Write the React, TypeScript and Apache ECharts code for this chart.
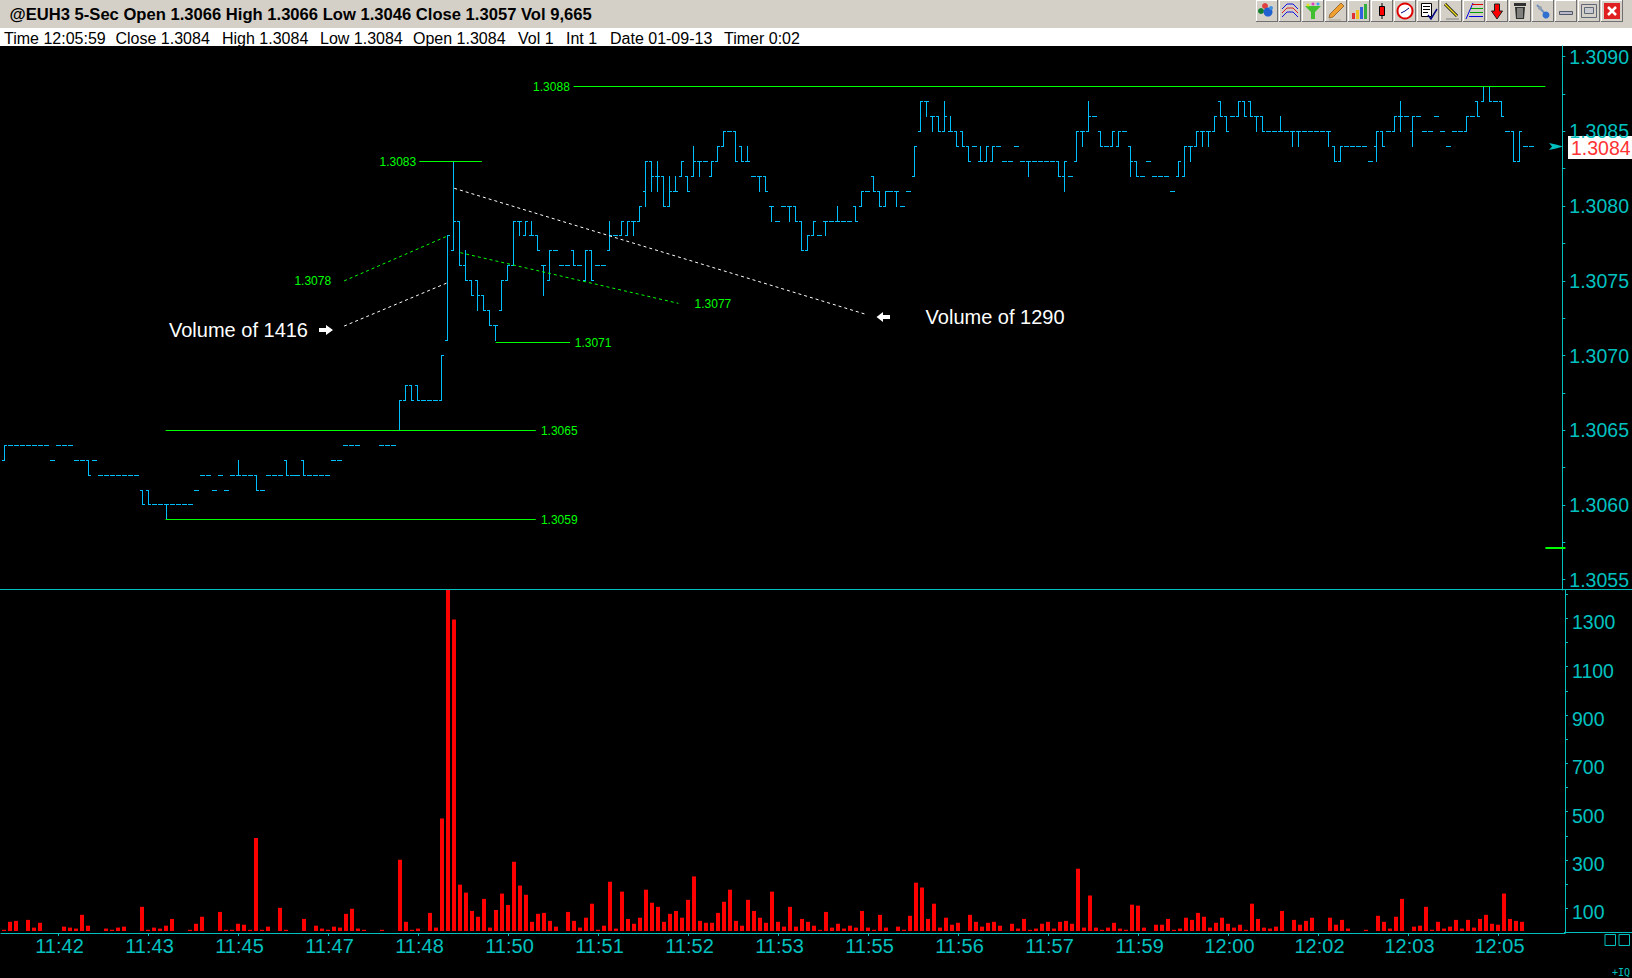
import React, { useEffect, useRef } from "react";
import * as echarts from "echarts";

// Prices are ticks above 1.3000 (64 = 1.3064)
const opens = [
  63,64,64,64,64,64,64,64,63,64, 64,64,63,63,63,63,62,62,62,62,
  62,62,62,61,61,60,60,60,60,60, 60,60,61,62,62,61,62,61,62,62,
  62,62,62,61,62,62,62,63,62,62, 63,62,62,62,62,63,63,64,64,64,
  65,65,65,64,64,64,65,67,68,68, 67,67,67,67,71,77,79,76,75,75,
  74,73,72,73,75,76,79,78,78,78, 76,75,77,76,76,77,76,75,77,76,
  76,77,78,78,78,79,79,81,83,82, 82,80,81,82,82,82,83,83,82,83,
  84,85,85,84,83,82,82,82,80,79, 80,80,80,79,77,78,78,79,79,79,
  79,79,80,80,81,82,81,80,81,81, 80,81,82,85,87,86,86,85,85,85,
  85,84,84,83,83,83,84,83,83,84, 83,83,83,83,83,83,83,82,82,83,
  85,85,86,85,84,84,84,85,84,83, 82,83,82,82,82,81,82,82,84,84,
  85,85,85,87,86,86,86,87,87,86, 86,85,85,85,85,85,85,85,85,85,
  85,85,84,83,84,84,84,84,83,84, 85,85,85,86,86,85,86,85,85,86,
  85,84,85,85,85,86,87,87,88,87, 87,85,85,83,84,84,
];
const closes = [
  64,64,64,64,64,64,64,64,63,64, 64,64,63,63,62,63,62,62,62,62,
  62,62,62,60,60,60,60,60,60,60, 60,60,61,62,62,61,62,61,62,62,
  62,62,61,61,62,62,62,62,62,62, 62,62,62,62,62,63,63,64,64,64,
  65,65,65,64,64,64,67,68,67,67, 67,67,67,70,78,79,76,75,74,74,
  73,72,72,75,76,79,79,79,78,77, 76,77,77,76,76,76,76,77,75,76,
  76,78,78,79,79,79,80,83,82,82, 80,81,81,83,81,83,83,83,83,84,
  85,85,83,83,83,82,82,81,80,79, 80,80,79,77,78,79,78,79,79,79,
  79,79,79,81,81,81,80,81,81,81, 80,81,84,87,87,86,85,86,85,84,
  84,83,84,83,84,84,84,83,83,84, 83,83,83,83,83,83,82,83,82,85,
  85,86,86,84,84,85,85,85,83,82, 82,83,82,82,82,81,83,84,84,85,
  85,85,86,86,85,86,87,86,86,86, 85,85,85,85,85,85,85,85,85,85,
  85,85,83,84,84,84,84,84,83,85, 84,85,86,86,86,86,86,85,85,86,
  85,84,85,85,86,86,86,88,87,87, 86,85,83,85,84,84,
];
// Bars whose high or low reach past their open and close
const wickHighs: Record<number, number> = {
  39:63,75:83,77:77,88:79,101:79,109:83,111:82,112:82,115:84,124:84,139:80,157:87,158:86,163:84,181:87,213:86,233:87,
};
const wickLows: Record<number, number> = {
  27:59,79:73,82:71,86:78,90:74,105:78,107:80,108:81,109:81,116:82,126:81,128:79,131:79,137:78,149:80,154:86,155:85,
  171:82,177:81,180:84,188:82,198:83,200:84,201:84,209:85,215:84,216:84,221:84,229:83,233:85,235:84,
};
const volumes = [
  5,38,42,0,46,14,34,0,0,0, 18,14,10,67,22,0,0,10,5,14,
  18,0,0,100,5,14,10,22,50,0, 0,5,30,59,0,0,79,5,5,30,
  26,5,385,5,18,0,96,5,0,0, 50,0,22,10,5,18,14,71,92,10,
  5,0,0,5,0,0,295,38,5,10, 0,75,14,466,1416,1290,192,159,83,59,
  133,14,87,155,108,287,188,150,38,71, 75,42,18,0,79,42,14,55,113,5,
  22,204,10,163,50,30,55,171,117,100, 38,71,83,55,129,226,42,34,34,75,
  121,171,42,22,129,83,55,34,163,38, 18,100,18,50,38,22,5,79,14,30,
  10,22,14,83,14,5,67,14,0,18, 5,63,200,180,50,113,14,55,26,34,
  0,67,38,18,34,38,22,0,30,10, 50,5,10,30,38,10,38,42,30,258,
  14,147,14,5,14,34,10,5,109,105, 14,0,26,26,50,5,10,55,46,75,
  59,14,34,55,30,14,26,5,113,50, 14,10,18,83,0,46,26,42,55,0,
  0,55,26,46,10,0,0,5,0,63, 38,10,59,133,0,18,22,100,5,38,
  10,18,46,10,46,14,50,67,30,26, 155,50,42,38,
];
const timeTickBars = [9,24,39,54,69,84,99,114,129,144,159,174,189,204,219,234,249];
const timeTickLabels = ["11:42","11:43","11:45","11:47","11:48","11:50","11:51","11:52","11:53","11:55","11:56","11:57","11:59","12:00","12:02","12:03","12:05"];
const priceTickValues = [1.3055,1.30575,1.306,1.30625,1.3065,1.30675,1.307,1.30725,1.3075,1.30775,1.308,1.30825,1.3085,1.30875,1.309];
const priceLabelValues = [1.3055,1.306,1.3065,1.307,1.3075,1.308,1.3085,1.309];
const volumeTickValues = [100,200,300,400,500,600,700,800,900,1000,1100,1200,1300,1400];
const volumeLabelValues = [100,300,500,700,900,1100,1300];

// Horizontal price levels: [from bar, to bar, price tick, label bar, label tick, label]
const levels: [number, number, number, number, number, string][] = [
  [95, 257.25, 88, 88.25, 88, "1.3088"],
  [69.25, 79.7, 83, 62.6, 83, "1.3083"],
  [82, 94.4, 70.85, 95.2, 70.85, "1.3071"],
  [26.9, 88.7, 65, 89.55, 65, "1.3065"],
  [26.9, 88.7, 59, 89.55, 59, "1.3059"],
];
const freeLabels: [number, number, string][] = [
  [48.4, 74.99, "1.3078"],
  [115.2, 73.45, "1.3077"],
];
// Sloped dotted lines: [bar, tick, bar, tick, colour]
const dottedLines: [number, number, number, number, string][] = [
  [56.7, 74.99, 74.2, 78.04, "#00ff00"],
  [76.1, 76.88, 112.5, 73.49, "#00ff00"],
  [56.7, 71.97, 73.85, 74.85, "#ffffff"],
  [75.08, 81.19, 143.6, 72.78, "#ffffff"],
];
const closeMark = { from: 257.25, to: 260.6, tick: 57.14 };

const titleText = "@EUH3 5-Sec Open 1.3066 High 1.3066 Low 1.3046 Close 1.3057 Vol 9,665";
const infoTexts: [number, string][] = [
  [4, "Time 12:05:59"], [115.5, "Close 1.3084"], [222, "High 1.3084"], [320, "Low 1.3084"],
  [413, "Open 1.3084"], [518, "Vol 1"], [566, "Int 1"], [610, "Date 01-09-13"], [724, "Timer 0:02"],
];

const PRICE = "#00bfff";
const CYAN = "#00c0c0";
const toPrice = (t: number) => 1.3 + t / 10000;
const snap = (v: number) => Math.floor(v + 0.001) + 0.5;
const FONT = '"Liberation Sans"';

function hline(x1: number, x2: number, y: number, stroke: string, lineWidth = 1) {
  return { type: "line", shape: { x1, y1: y, x2, y2: y }, style: { stroke, lineWidth } };
}

function renderPriceBar(params: any, api: any) {
  const i = api.value(0);
  const [x0] = api.coord([i, api.value(1)]);
  const x = snap(x0);
  const yO = snap(api.coord([i, api.value(1)])[1]);
  const yH = snap(api.coord([i, api.value(2)])[1]);
  const yL = snap(api.coord([i, api.value(3)])[1]);
  const yC = snap(api.coord([i, api.value(4)])[1]);
  const children: any[] = [
    hline(x - 2.5, x + 0.5, yO, PRICE),
    hline(x - 0.5, x + 2.5, yC, PRICE),
  ];
  if (yL > yH) {
    children.push({ type: "line", shape: { x1: x, y1: yH - 0.5, x2: x, y2: yL + 0.5 }, style: { stroke: PRICE, lineWidth: 1 } });
  }
  return { type: "group", children };
}

function renderLevel(params: any, api: any) {
  const d = levels[params.dataIndex];
  const a = api.coord([d[0], toPrice(d[2])]);
  const b = api.coord([d[1], toPrice(d[2])]);
  const t = api.coord([d[3], toPrice(d[4])]);
  const y = snap(a[1]);
  return {
    type: "group",
    children: [
      hline(a[0], b[0], y, "#00ff00"),
      { type: "text", x: t[0], y: snap(t[1]), style: { text: d[5], fill: "#00ff00", font: `12px ${FONT}`, textAlign: "left", textVerticalAlign: "middle" } },
    ],
  };
}

function renderFreeLabel(params: any, api: any) {
  const d = freeLabels[params.dataIndex];
  const t = api.coord([d[0], toPrice(d[1])]);
  return { type: "text", x: t[0], y: t[1], style: { text: d[2], fill: "#00ff00", font: `12px ${FONT}`, textAlign: "left", textVerticalAlign: "middle" } };
}

function renderDotted(params: any, api: any) {
  const d = dottedLines[params.dataIndex];
  const a = api.coord([d[0], toPrice(d[1])]);
  const b = api.coord([d[2], toPrice(d[3])]);
  return { type: "line", shape: { x1: a[0], y1: a[1], x2: b[0], y2: b[1] }, style: { stroke: d[4], lineWidth: 1, lineDash: [3, 3] } };
}

function renderCloseMark(params: any, api: any) {
  const a = api.coord([closeMark.from, toPrice(closeMark.tick)]);
  const b = api.coord([closeMark.to, toPrice(closeMark.tick)]);
  return hline(a[0], b[0], Math.round(a[1]), "#00ff00", 2);
}

const FACE = "#d4d0c8";
const r = (x: number, y: number, w: number, h: number, fill: string, stroke?: string) => ({
  type: "rect", shape: { x, y, width: w, height: h }, style: { fill, stroke: stroke || "none", lineWidth: 1 },
});
const l = (x1: number, y1: number, x2: number, y2: number, stroke: string, lineWidth = 1) => ({
  type: "line", shape: { x1, y1, x2, y2 }, style: { stroke, lineWidth },
});
const c = (cx: number, cy: number, rad: number, fill: string, stroke?: string, lineWidth = 1) => ({
  type: "circle", shape: { cx, cy, r: rad }, style: { fill, stroke: stroke || "none", lineWidth },
});
const pg = (points: number[][], fill: string, stroke?: string) => ({
  type: "polygon", shape: { points }, style: { fill, stroke: stroke || "none", lineWidth: 1 },
});
const pl = (points: number[][], stroke: string, lineWidth = 1) => ({
  type: "polyline", shape: { points }, style: { fill: "none", stroke, lineWidth },
});

const toolIcons: any[][] = [
  [c(9, 6, 3, "#e04040"), c(5, 11, 3, "#108030"), c(12, 12, 4.5, "#2060d0"), c(15, 8, 2, "#4090e0")],
  [pl([[3, 9], [8, 4], [14, 4], [19, 9]], "#1010e0"), pl([[3, 13], [8, 8], [14, 8], [19, 13]], "#e02020"), pl([[3, 17], [8, 12], [14, 12], [19, 17]], "#1010e0")],
  [pg([[3, 6], [19, 6], [13, 12], [13, 19], [9, 19], [9, 12]], "#40c030"), c(6, 5, 1.5, "#e0e020"), c(11, 4, 1.5, "#e040c0"), c(16, 4, 1.5, "#40a0f0")],
  [pg([[16, 3], [19, 6], [8, 17], [4, 18], [5, 14]], "#f0a030", "#a07030"), l(4, 20, 16, 20, "#b0a890")],
  [r(4, 13, 3, 6, "#e03030"), r(8, 10, 3, 9, "#f0c020"), r(12, 7, 3, 12, "#3060e0"), r(16, 4, 3, 15, "#30b040")],
  [l(11, 3, 11, 19, "#000000"), r(8.5, 6.5, 5, 9, "#ff0000", "#000000")],
  [c(11, 11, 7.5, "#ffffff", "#e00000", 2), pl([[7, 13], [11, 11], [15, 8]], "#000080")],
  [r(4.5, 3.5, 10, 13, "#ffffff", "#000000"), l(6, 6.5, 13, 6.5, "#000000"), l(6, 9.5, 13, 9.5, "#000000"), l(6, 12.5, 11, 12.5, "#000000"), pl([[11, 15], [14, 19], [20, 9]], "#000080", 1.5)],
  [l(5, 4, 17, 16, "#000000", 3), l(5, 4, 17, 16, "#f0e020", 1.5), l(6, 19, 19, 19, "#808080")],
  [pl([[3, 19], [10, 3]], "#0000e0"), l(9, 4.5, 20, 4.5, "#e00000"), l(8, 8.5, 20, 8.5, "#00a000"), l(7, 12.5, 20, 12.5, "#00a000"), l(6, 16.5, 20, 16.5, "#0000e0")],
  [pg([[8.5, 4], [13.5, 4], [13.5, 11], [16.5, 11], [11, 19], [5.5, 11], [8.5, 11]], "#ff0000", "#202020")],
  [r(5, 3, 12, 3, "#303030"), pg([[6, 7], [16, 7], [15, 19], [7, 19]], "#303030"), l(9, 8, 9, 18, FACE), l(11, 8, 11, 18, FACE), l(13, 8, 13, 18, FACE)],
  [l(5, 5, 16, 17, "#7090c0", 2), c(14, 15, 3.5, "#3070d0"), c(8, 8, 2, "#90a0b0")],
  [r(4.5, 11.5, 13, 3, "#b8b8c8", "#505868")],
  [r(3.5, 4.5, 15, 13, "none", "#606878"), r(6.5, 7.5, 9, 6, "#c8c8d0", "#606878")],
  [r(3, 3, 16, 16, "#e02020"), l(7, 7, 15, 15, "#ffffff", 2.5), l(15, 7, 7, 15, "#ffffff", 2.5)],
];

function toolButton(k: number, icon: any[]) {
  return {
    type: "group",
    x: 1256 + 23 * k,
    y: 0,
    children: [
      r(0, 0, 22, 22, FACE),
      l(0, 0.5, 22, 0.5, "#ffffff"),
      l(0.5, 0, 0.5, 22, "#ffffff"),
      l(0, 21.5, 22, 21.5, "#707070"),
      l(21.5, 0, 21.5, 22, "#707070"),
      ...icon,
    ],
  };
}

function buildGraphic() {
  const text = (x: number, y: number, t: string, fill: string, font: string) => ({
    type: "text", x, y, style: { text: t, fill, font, textAlign: "left", textVerticalAlign: "middle" },
  });
  return [
    {
      type: "group",
      z: 100,
      children: [
        r(0, 0, 1632, 28, FACE),
        r(0, 28, 1632, 18, "#ffffff"),
        text(9.5, 14.5, titleText, "#000000", `bold 16.6px ${FONT}`),
        ...infoTexts.map(([x, t]) => text(x, 38, t, "#000000", `16px ${FONT}`)),
        ...toolIcons.map((icon, k) => toolButton(k, icon)),
        l(0, 589.5, 1632, 589.5, CYAN),
        l(1564, 932.5, 1632, 932.5, CYAN),
        r(1568, 136, 64, 23, "#ffffff"),
        text(1571, 148, "1.3084", "#ff3333", `19.5px ${FONT}`),
        pg([[1549, 143], [1556, 144.5], [1563, 146.5], [1556, 148.5], [1549, 150], [1552, 146.5]], CYAN),
        text(169, 330, "Volume of 1416", "#ffffff", `20px ${FONT}`),
        pg([[319, 328], [326, 328], [326, 325], [333, 330], [326, 335], [326, 332], [319, 332]], "#ffffff"),
        text(925.6, 316.5, "Volume of 1290", "#ffffff", `20px ${FONT}`),
        pg([[890, 315], [883, 315], [883, 312], [876.5, 317], [883, 322], [883, 319], [890, 319]], "#ffffff"),
        r(1605, 934.5, 10.5, 11, "none", CYAN),
        r(1619, 934.5, 10.5, 11, "none", CYAN),
        text(1612, 972, "+IQ", CYAN, `10px "DejaVu Sans Mono"`),
      ],
    },
  ];
}

export default function App() {
  const ref = useRef<HTMLDivElement | null>(null);
  useEffect(() => {
    document.body.style.margin = "0";
    document.body.style.background = "#000";
    document.body.style.overflow = "hidden";
    const chart = echarts.init(ref.current as HTMLDivElement, undefined, { renderer: "svg" });
    const axisLine = { show: true, onZero: false, lineStyle: { color: CYAN, width: 1 } };
    const tick = (customValues: number[]) => ({ show: true, length: 3, customValues, lineStyle: { color: CYAN, width: 1 } });
    chart.setOption({
      animation: false,
      backgroundColor: "#000000",
      grid: [
        { left: 1, top: 46, width: 1564, height: 544 },
        { left: 1, top: 590, width: 1564, height: 343 },
      ],
      xAxis: [
        { type: "value", gridIndex: 0, min: -0.5833, max: 260.0837, show: false, splitLine: { show: false } },
        {
          type: "value", gridIndex: 1, min: -0.5, max: 260.1667, position: "bottom",
          axisLine, axisTick: tick(timeTickBars), splitLine: { show: false },
          axisLabel: {
            customValues: timeTickBars, margin: 3, color: CYAN, fontSize: 20, fontFamily: FONT,
            padding: [0, 0, 0, 3],
            formatter: (v: number) => timeTickLabels[timeTickBars.indexOf(v)] || "",
          },
        },
      ],
      yAxis: [
        {
          type: "value", gridIndex: 0, position: "right", min: 1.30543095, max: 1.30907099,
          axisLine, axisTick: tick(priceTickValues), splitLine: { show: false },
          axisLabel: {
            customValues: priceLabelValues, margin: 7, color: CYAN, fontSize: 19.5, fontFamily: FONT,
            formatter: (v: number) => v.toFixed(4),
          },
        },
        { type: "value", gridIndex: 1, position: "right", min: -8.3, max: 1412, show: false, splitLine: { show: false } },
        {
          type: "value", gridIndex: 1, position: "right", min: -2, max: 1417,
          axisLine, axisTick: tick(volumeTickValues), splitLine: { show: false },
          axisLabel: {
            customValues: volumeLabelValues, margin: 7, color: CYAN, fontSize: 19.5, fontFamily: FONT,
            verticalAlign: "top", padding: [-6, 0, 0, 0], formatter: (v: number) => String(v),
          },
        },
      ],
      series: [
        {
          type: "custom", name: "EUH3", xAxisIndex: 0, yAxisIndex: 0, clip: false,
          renderItem: renderPriceBar,
          encode: { x: 0, y: [1, 2, 3, 4] },
          data: opens.map((o, i) => {
            const cl = closes[i];
            const hi = wickHighs[i] ?? Math.max(o, cl);
            const lo = wickLows[i] ?? Math.min(o, cl);
            return [i, toPrice(o), toPrice(hi), toPrice(lo), toPrice(cl)];
          }),
        },
        {
          type: "custom", name: "Levels", xAxisIndex: 0, yAxisIndex: 0, clip: false, renderItem: renderLevel,
          encode: { x: 0, y: 1 },
          data: levels.map((d) => [d[0], toPrice(d[2])]),
        },
        {
          type: "custom", name: "Level labels", xAxisIndex: 0, yAxisIndex: 0, clip: false, renderItem: renderFreeLabel,
          encode: { x: 0, y: 1 },
          data: freeLabels.map((d) => [d[0], toPrice(d[1])]),
        },
        {
          type: "custom", name: "Dotted", xAxisIndex: 0, yAxisIndex: 0, clip: false, renderItem: renderDotted,
          encode: { x: 0, y: 1 },
          data: dottedLines.map((d) => [d[0], toPrice(d[1])]),
        },
        {
          type: "custom", name: "Close", xAxisIndex: 0, yAxisIndex: 0, clip: false, renderItem: renderCloseMark,
          encode: { x: 0, y: 1 },
          data: [[closeMark.from, toPrice(closeMark.tick)]],
        },
        {
          type: "bar", name: "Volume", xAxisIndex: 1, yAxisIndex: 1, barWidth: 4,
          itemStyle: { color: "#ff0000" },
          data: volumes.map((v, i) => [i, v]),
        },
      ],
      graphic: buildGraphic(),
    });
    return () => chart.dispose();
  }, []);
  return <div ref={ref} style={{ width: 1632, height: 978 }} />;
}
